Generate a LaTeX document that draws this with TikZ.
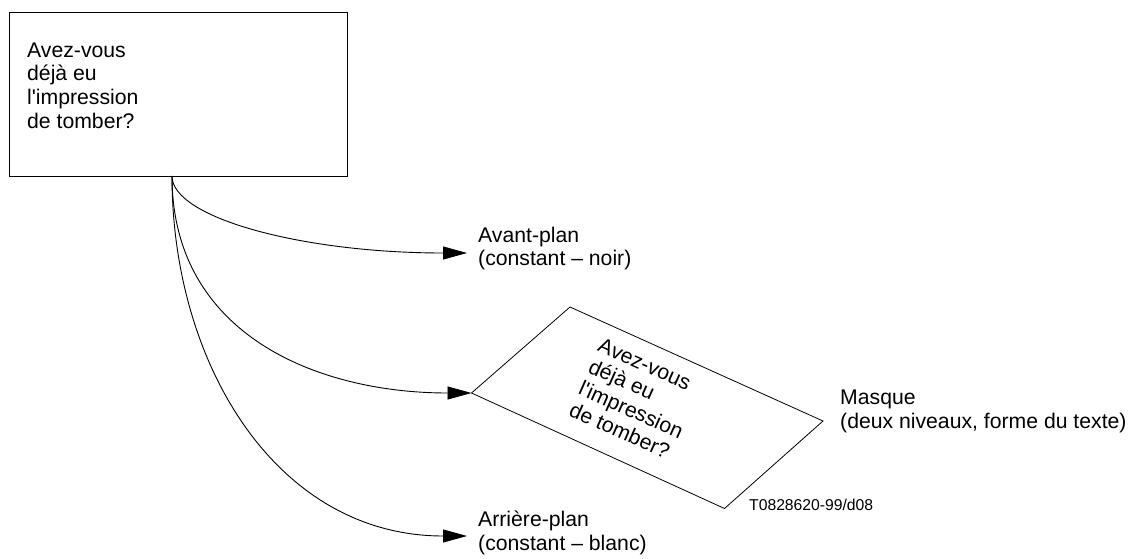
\documentclass[tikz,border=0pt]{standalone}
\usepackage{fontspec}
\setmainfont{Liberation Sans}[Ligatures=TeXOff]
\usetikzlibrary{arrows.meta}
\tikzset{
  lbl/.style={inner sep=0pt, align=left, font=\fontsize{21.2}{23.7}\selectfont, anchor=north west},
  small/.style={inner sep=0pt, font=\fontsize{15.7}{18}\selectfont, anchor=north west},
  frame/.style={draw, line width=1pt, inner sep=0pt, anchor=north west},
  conn/.style={line width=0.9pt, -{Triangle[length=24pt,width=13pt]}},
  edge/.style={line width=0.8pt, line join=miter}
}
\begin{document}
\begin{tikzpicture}[x=1pt,y=-1pt]
\useasboundingbox (0,0) rectangle (1135,559);
% top box
\node[frame, minimum width=338pt, minimum height=164pt] (q) at (9,12) {};
\node[lbl] (qt) at (27,42.3) {Avez-vous\\déjà eu\\l'impression\\de tomber?};
\coordinate (src) at (172,176);
% labels
\node[lbl] (ap) at (478,226.5) {Avant-plan\\(constant – noir)};
\node[lbl] (mq) at (840,390) {Masque\\(deux niveaux, forme du texte)};
\node[lbl] (arr) at (478,511) {Arrière-plan\\(constant – blanc)};
\node[small] (ref) at (749,498.8) {T0828620-99/d08};
% parallelogram (mask)
\coordinate (pl) at (471.5,393);
\coordinate (pt) at (570,307);
\coordinate (pr) at (823,421);
\coordinate (pb) at (724.5,508.5);
\draw[edge] (pl) -- (pt) -- (pr) -- (pb) -- cycle;
\node[lbl, anchor=center, rotate=-24] (mt) at (636,399) {Avez-vous\\déjà eu\\l'impression\\de tomber?};
% end points of connectors
\coordinate (e1) at (467,253);
\coordinate (e3) at (467,536);
% connectors
\draw[conn] (src) .. controls (172,218) and (303,253) .. (e1);
\draw[conn] (src) .. controls (172,335) and (318,393) .. (pl);
\draw[conn] (src) .. controls (172,365) and (277,536) .. (e3);
\end{tikzpicture}
\end{document}
